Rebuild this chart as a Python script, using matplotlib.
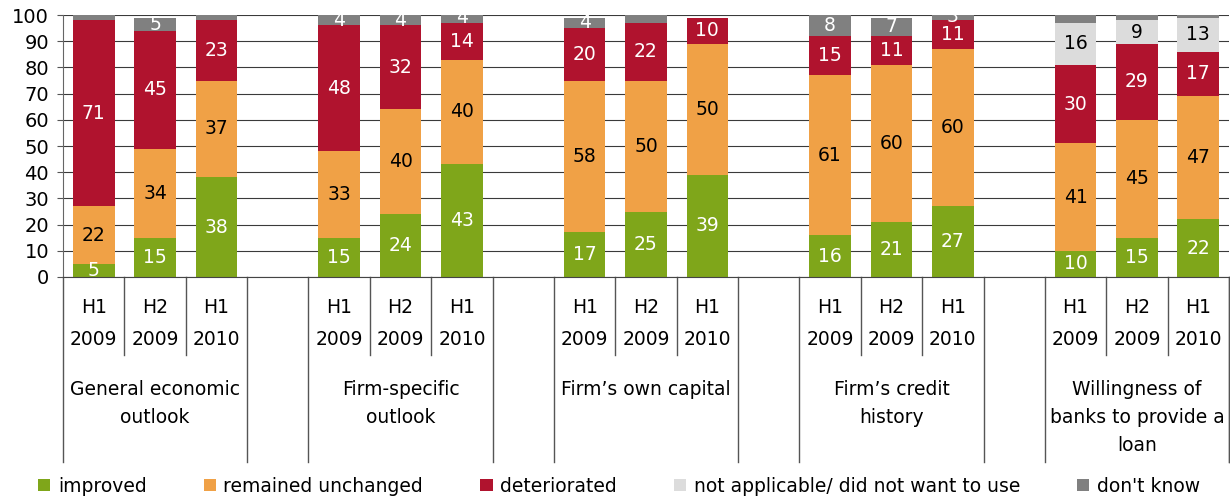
import numpy as np
import matplotlib
matplotlib.use("Agg")
import matplotlib.pyplot as plt
from matplotlib.patches import Patch
import matplotlib.transforms as mtransforms

plt.rcParams["font.family"] = ["DejaVu Sans"]

groups = ["General economic\noutlook", "Firm-specific\noutlook", "Firm’s own capital",
          "Firm’s credit\nhistory", "Willingness of\nbanks to provide a\nloan"]
periods = [("H1", "2009"), ("H2", "2009"), ("H1", "2010")]

improved = [5, 15, 38, 15, 24, 43, 17, 25, 39, 16, 21, 27, 10, 15, 22]
unchanged = [22, 34, 37, 33, 40, 40, 58, 50, 50, 61, 60, 60, 41, 45, 47]
deteriorated = [71, 45, 23, 48, 32, 14, 20, 22, 10, 15, 11, 11, 30, 29, 17]
not_applicable = [0, 0, 0, 0, 0, 0, 0, 0, 0, 0, 0, 0, 16, 9, 13]
dont_know = [2, 5, 2, 4, 4, 4, 4, 3, 0, 8, 7, 3, 3, 2, 1]
# which "don't know" segments carry a label in the original
dont_know_shown = [False, True, False, True, True, True, True, False, False,
                   True, True, True, False, False, False]

series = [
    ("improved", improved, "#7fa61a", "white"),
    ("remained unchanged", unchanged, "#f0a146", "black"),
    ("deteriorated", deteriorated, "#b0132e", "white"),
    ("not applicable/ did not want to use", not_applicable, "#dcdcdc", "black"),
    ("don't know", dont_know, "#808080", "white"),
]

FS = 13.5
fig = plt.figure(figsize=(12.3, 4.99), dpi=100)
ax = fig.add_axes([0.0512, 0.4449, 0.948, 0.525])

# 3 bars per group plus an empty slot between groups
x = np.array([g * 4 + j for g in range(len(groups)) for j in range(3)])
bottom = np.zeros(len(x))
for name, vals, color, tcolor in series:
    vals = np.array(vals, dtype=float)
    ax.bar(x, vals, width=0.68, bottom=bottom, color=color, zorder=2)
    for i, (xi, v, b) in enumerate(zip(x, vals, bottom)):
        if v <= 0:
            continue
        if name == "don't know" and not dont_know_shown[i]:
            continue
        ax.text(xi, b + v / 2, f"{v:.0f}", ha="center", va="center",
                color=tcolor, fontsize=FS, zorder=3, clip_on=True)
    bottom += vals

ax.set_xlim(-0.5, 18.5)
ax.set_ylim(0, 100)
ax.set_yticks(np.arange(0, 101, 10))
ax.tick_params(axis="y", labelsize=FS + 0.5, length=4, pad=6, color="#555555")
ax.set_xticks([])
ax.yaxis.grid(True, color="#3a3a3a", lw=0.8, zorder=0)
ax.axhline(100, color="#999999", lw=1.2, zorder=1)
for s in ["top", "right"]:
    ax.spines[s].set_visible(False)
ax.spines["left"].set_color("#666666")
ax.spines["bottom"].set_color("#444444")

# multi-level category axis
trans = mtransforms.blended_transform_factory(ax.transData, ax.transAxes)
for g in range(len(groups)):
    left, right = g * 4 - 0.5, g * 4 + 2.5
    for xe in (left, right):
        ax.plot([xe, xe], [0, -0.706], transform=trans, color="#555555",
                lw=1, clip_on=False)
    for xe in (left + 1, left + 2):
        ax.plot([xe, xe], [0, -0.298], transform=trans, color="#555555",
                lw=1, clip_on=False)
    for j, (h, yr) in enumerate(periods):
        ax.text(g * 4 + j, -0.118, h, transform=trans, ha="center",
                va="center", fontsize=FS)
        ax.text(g * 4 + j, -0.240, yr, transform=trans, ha="center",
                va="center", fontsize=FS)
    for k, line in enumerate(groups[g].split("\n")):
        ax.text(g * 4 + 1, -0.431 - k * 0.107, line, transform=trans,
                ha="center", va="center", fontsize=FS)
ax.plot([18.5, 18.5], [0, -0.706], transform=trans, color="#555555",
        lw=1, clip_on=False)

handles = [Patch(facecolor=c, edgecolor="none", label=n) for n, _, c, _ in series]
fig.legend(handles=handles, loc="center left", bbox_to_anchor=(0.031, 0.026),
           ncol=5, frameon=False, fontsize=FS, handlelength=0.65,
           handleheight=0.65, handletextpad=0.4, columnspacing=3.05,
           borderaxespad=0, borderpad=0)

fig.savefig("out.png", dpi=100)
